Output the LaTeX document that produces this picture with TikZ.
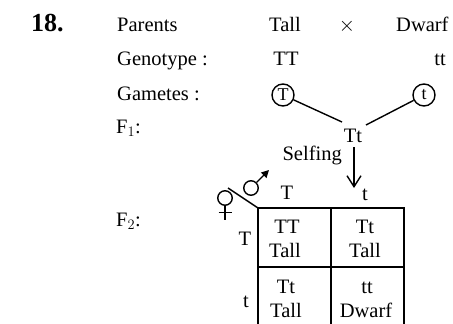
\documentclass[tikz,border=0pt]{standalone}
\usepackage{fontspec}
\setmainfont{Liberation Serif}
\usetikzlibrary{arrows.meta}
\begin{document}
\begin{tikzpicture}[x=1pt,y=-1pt,
  txt/.style={inner sep=0pt,font=\fontsize{20.5}{23}\selectfont},
  lbl/.style={txt,anchor=base west},
  ctr/.style={txt,anchor=base},
  gam/.style={draw,circle,line width=1.4pt,minimum size=22pt,inner sep=0pt,font=\fontsize{18}{20}\selectfont},
  ln/.style={line width=1.4pt},
  sym/.style={draw,circle,line width=1.4pt,minimum size=14.5pt,inner sep=0pt},
  grid/.style={line width=1.7pt}]
\useasboundingbox (0,0) rectangle (453,324);
\node[lbl,font=\bfseries\fontsize{26}{30}\selectfont] (num) at (31,31) {18.};
\node[lbl] (par) at (117,31) {Parents};
\node[ctr] (tall) at (285,31) {Tall};
\node[ctr] (x) at (347,31) {$\times$};
\node[lbl] (dw) at (396,31) {Dwarf};
\node[lbl] (gen) at (117,65) {Genotype :};
\node[ctr] (TT) at (286,65) {TT};
\node[ctr] (tt) at (440,65) {tt};
\node[lbl] (gam) at (117,100) {Gametes :};
\node[gam] (gT) at (283,95) {T};
\node[gam] (gt) at (424,95) {t};
\node[ctr] (F1g) at (353,142) {Tt};
\node[lbl] (F1) at (116,133) {F$_1$:};
\node[lbl] (F2) at (116,226) {F$_2$:};
\draw[ln] (gT) -- (342,122);
\draw[ln] (gt) -- (366,125);
\node[txt,anchor=base east] (self) at (342,160) {Selfing};
\coordinate (aS) at (354,147);
\coordinate (aE) at (354,188);
\draw[ln,-{Straight Barb[length=11pt,width=14pt,line width=1.4pt]}] (aS) -- (aE);
% Punnett grid
\coordinate (g00) at (258,208);
\draw[grid] (258,324) -- (258,208) -- (404,208) -- (404,324);
\draw[grid] (331,208) -- (331,324);
\draw[grid] (258,267) -- (404,267);
% sex symbols
\draw[ln] (g00) -- (228,188);
\node[sym] (male) at (251,188) {};
\draw[line width=1.4pt,-{Triangle[length=7.5pt,width=7.5pt]}] (male.45) -- (269,170);
\node[sym] (fem) at (225,198) {};
\draw[ln] (fem.south) -- (225,220);
\draw[ln] (218.5,212.5) -- (231.5,212.5);
\node[ctr] (cT) at (287,199) {T};
\node[ctr] (ct) at (365,200) {t};
\node[ctr] (rT) at (245,245) {T};
\node[ctr] (rt) at (246,307) {t};
\node[ctr] (a1) at (287,233) {TT};
\node[ctr] (a2) at (285,257) {Tall};
\node[ctr] (b1) at (365,233) {Tt};
\node[ctr] (b2) at (365,257) {Tall};
\node[ctr] (c1) at (286,293) {Tt};
\node[ctr] (c2) at (286,317) {Tall};
\node[ctr] (d1) at (367,293) {tt};
\node[ctr] (d2) at (366,317) {Dwarf};
\end{tikzpicture}
\end{document}
